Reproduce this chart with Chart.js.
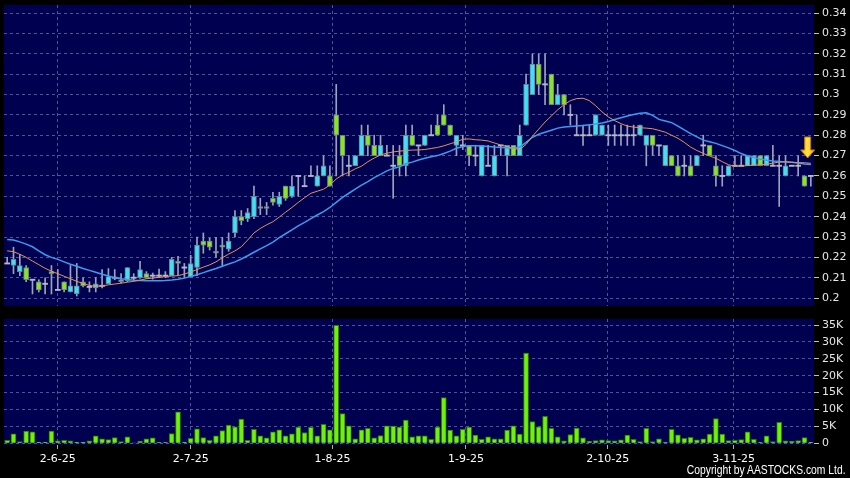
<!DOCTYPE html>
<html>
<head>
<meta charset="utf-8">
<script src="https://cdn.jsdelivr.net/npm/chart.js@4.4.1/dist/chart.umd.min.js"></script>
<style>
html, body { margin: 0; padding: 0; background: #000; }
#wrap { position: relative; width: 850px; height: 478px; background: #000; overflow: hidden; }
#priceChart { position: absolute; left: 0; top: 0; }
#volChart { position: absolute; left: 0; top: 312px; }
#copy { position: absolute; right: 4px; top: 463px; line-height: 14px; color: #fff; white-space: nowrap;
        font: 12px "Liberation Sans Narrow", "Liberation Sans", sans-serif;
        transform: scaleX(0.86); transform-origin: right center; }
</style>
</head>
<body>
<div id="wrap">
  <canvas id="priceChart" width="850" height="312"></canvas>
  <canvas id="volChart" width="850" height="166"></canvas>
  <div id="copy">Copyright by AASTOCKS.com Ltd.</div>
</div>
<script>
// Datos (una vela por sesión, 21-may a 19-nov)
const open = [
  0.217,0.216,0.213,0.215,0.209,0.208,0.207,0.213,0.204,0.208,
  0.203,0.202,0.208,0.2055,0.205,0.206,0.207,0.210,0.209,0.2085,
  0.210,0.210,0.212,0.211,0.211,0.211,0.211,0.218,0.215,0.2105,
  0.215,0.228,0.228,0.223,0.226,0.224,0.232,0.240,0.239,0.240,
  0.245,0.245,0.249,0.246,0.255,0.250,0.260,0.255,0.260,0.255,
  0.260,0.260,0.290,0.280,0.265,0.265,0.270,0.280,0.275,0.270,
  0.270,0.265,0.270,0.265,0.280,0.275,0.275,0.280,0.285,0.290,
  0.285,0.275,0.275,0.275,0.270,0.260,0.265,0.260,0.275,0.270,
  0.275,0.270,0.285,0.300,0.315,0.305,0.310,0.295,0.300,0.290,
  0.280,0.280,0.280,0.280,0.280,0.280,0.280,0.280,0.280,0.280,
  0.280,0.275,0.280,0.275,0.265,0.270,0.265,0.265,0.265,0.265,
  0.275,0.275,0.265,0.260,0.260,0.265,0.265,0.265,0.265,0.270,
  0.265,0.265,0.265,0.260,0.265,0.265,0.260,0.260
];
const high = [
  0.220,0.225,0.2215,0.216,0.209,0.209,0.210,0.216,0.214,0.208,
  0.216,0.217,0.210,0.208,0.210,0.214,0.2145,0.214,0.212,0.215,
  0.212,0.218,0.213,0.2123,0.2143,0.213,0.220,0.2205,0.217,0.221,
  0.230,0.232,0.2294,0.2298,0.2298,0.232,0.243,0.243,0.244,0.255,
  0.249,0.247,0.252,0.252,0.255,0.260,0.260,0.260,0.265,0.265,
  0.270,0.265,0.305,0.280,0.270,0.270,0.285,0.285,0.280,0.280,
  0.275,0.275,0.275,0.285,0.285,0.275,0.280,0.285,0.290,0.295,
  0.285,0.280,0.280,0.275,0.275,0.275,0.275,0.275,0.275,0.275,
  0.275,0.285,0.310,0.320,0.320,0.320,0.310,0.305,0.300,0.295,
  0.290,0.285,0.285,0.290,0.285,0.285,0.285,0.285,0.285,0.285,
  0.285,0.280,0.280,0.275,0.275,0.270,0.270,0.270,0.270,0.270,
  0.280,0.275,0.270,0.265,0.265,0.270,0.270,0.270,0.270,0.270,
  0.270,0.275,0.270,0.270,0.265,0.270,0.260,0.260
];
const low = [
  0.217,0.212,0.211,0.208,0.202,0.203,0.202,0.202,0.204,0.203,
  0.203,0.201,0.2055,0.203,0.203,0.205,0.207,0.209,0.2075,0.208,
  0.209,0.2097,0.2097,0.2093,0.210,0.210,0.211,0.211,0.210,0.2105,
  0.211,0.222,0.2236,0.220,0.216,0.223,0.230,0.236,0.2376,0.239,
  0.241,0.241,0.2457,0.245,0.248,0.2495,0.250,0.255,0.260,0.255,
  0.260,0.255,0.260,0.260,0.260,0.265,0.270,0.270,0.270,0.270,
  0.270,0.249,0.260,0.260,0.275,0.270,0.275,0.280,0.280,0.285,
  0.280,0.270,0.273,0.265,0.265,0.260,0.265,0.260,0.270,0.260,
  0.270,0.270,0.285,0.300,0.300,0.295,0.295,0.295,0.290,0.285,
  0.280,0.275,0.280,0.280,0.280,0.275,0.275,0.275,0.275,0.275,
  0.280,0.265,0.270,0.270,0.265,0.265,0.260,0.260,0.260,0.265,
  0.270,0.270,0.255,0.255,0.260,0.265,0.265,0.265,0.265,0.265,
  0.265,0.265,0.245,0.260,0.265,0.260,0.255,0.255
];
const close = [
  0.217,0.219,0.216,0.209,0.209,0.204,0.207,0.212,0.204,0.204,
  0.206,0.206,0.206,0.2055,0.207,0.206,0.2105,0.210,0.208,0.215,
  0.210,0.214,0.210,0.211,0.211,0.211,0.219,0.217,0.215,0.217,
  0.226,0.226,0.225,0.222,0.225,0.228,0.240,0.238,0.242,0.250,
  0.244,0.244,0.247,0.250,0.249,0.255,0.260,0.255,0.260,0.260,
  0.265,0.255,0.280,0.270,0.265,0.270,0.280,0.275,0.270,0.275,
  0.270,0.265,0.265,0.280,0.275,0.275,0.280,0.280,0.280,0.285,
  0.280,0.280,0.275,0.270,0.270,0.275,0.265,0.270,0.275,0.275,
  0.270,0.280,0.305,0.315,0.305,0.305,0.295,0.300,0.295,0.290,
  0.280,0.280,0.280,0.290,0.285,0.280,0.280,0.280,0.280,0.280,
  0.285,0.280,0.275,0.275,0.275,0.265,0.260,0.265,0.260,0.270,
  0.275,0.270,0.260,0.260,0.265,0.265,0.265,0.270,0.270,0.265,
  0.270,0.265,0.265,0.265,0.265,0.265,0.255,0.260
];
// medias móviles tal como se ven en el gráfico
const ma10 = [
  0.2232,0.2228,0.2215,0.2200,0.2182,0.2164,0.2146,0.2132,0.2120,0.2107,
  0.2095,0.2082,0.2072,0.2062,0.2058,0.2060,0.2065,0.2069,0.2073,0.2078,
  0.2082,0.2088,0.2095,0.2098,0.2102,0.2106,0.2108,0.2110,0.2118,0.2128,
  0.2140,0.2152,0.2163,0.2178,0.2198,0.2216,0.2232,0.2252,0.2285,0.2320,
  0.2342,0.2360,0.2375,0.2398,0.2422,0.2445,0.2470,0.2493,0.2515,0.2525,
  0.2535,0.2555,0.2585,0.2605,0.2618,0.2635,0.2648,0.2670,0.2688,0.2703,
  0.2712,0.2718,0.2722,0.2725,0.2727,0.2728,0.2730,0.2735,0.2740,0.2748,
  0.2758,0.2768,0.2780,0.2782,0.2778,0.2776,0.2772,0.2762,0.2752,0.2745,
  0.2735,0.2730,0.2755,0.2795,0.2830,0.2865,0.2895,0.2925,0.2950,0.2970,
  0.2980,0.2982,0.2970,0.2945,0.2915,0.2890,0.2872,0.2857,0.2845,0.2840,
  0.2837,0.2835,0.2832,0.2824,0.2815,0.2800,0.2785,0.2765,0.2742,0.2725,
  0.2711,0.2698,0.2687,0.2670,0.2655,0.2648,0.2648,0.2651,0.2653,0.2655,
  0.2658,0.2663,0.2668,0.2670,0.2667,0.2665,0.2665,0.2662
];
const ma20 = [
  0.2288,0.2285,0.2276,0.2265,0.2252,0.2232,0.2213,0.2200,0.2190,0.2178,
  0.2166,0.2156,0.2145,0.2136,0.2127,0.2117,0.2108,0.2100,0.2095,0.2091,
  0.2088,0.2086,0.2085,0.2085,0.2085,0.2086,0.2089,0.2093,0.2098,0.2106,
  0.2115,0.2125,0.2135,0.2145,0.2156,0.2167,0.2178,0.2192,0.2208,0.2225,
  0.2242,0.2258,0.2275,0.2297,0.2316,0.2335,0.2355,0.2372,0.2390,0.2408,
  0.2425,0.2445,0.2470,0.2495,0.2515,0.2535,0.2555,0.2572,0.2592,0.2608,
  0.2625,0.2637,0.2645,0.2660,0.2668,0.2678,0.2687,0.2694,0.2700,0.2710,
  0.2722,0.2736,0.2745,0.2748,0.2748,0.2747,0.2745,0.2742,0.2740,0.2738,
  0.2736,0.2742,0.2765,0.2790,0.2805,0.2815,0.2825,0.2835,0.2840,0.2843,
  0.2846,0.2848,0.2851,0.2855,0.2860,0.2868,0.2877,0.2886,0.2895,0.2902,
  0.2908,0.2910,0.2898,0.2878,0.2870,0.2862,0.2845,0.2826,0.2808,0.2792,
  0.2776,0.2768,0.2760,0.2749,0.2738,0.2725,0.2710,0.2698,0.2690,0.2683,
  0.2677,0.2673,0.2671,0.2669,0.2667,0.2664,0.2659,0.2656
];
const volume = [
  900,2800,500,3600,3400,400,400,3600,700,900,
  700,400,400,700,2200,1300,1100,1700,500,1900,
  100,600,1300,1600,300,300,2900,9300,400,1500,
  4300,1700,900,2200,3800,5400,4900,7200,900,4100,
  2200,1600,3400,4000,2200,2800,4800,3200,4700,2200,
  5600,4000,34900,8800,5200,1300,4000,4400,1600,2300,
  5200,5100,4800,6900,1900,2200,2200,1200,4800,13500,
  3900,2200,4100,4800,2400,1200,1900,1300,1300,3900,
  5200,2700,26700,6400,4900,8000,4400,1900,700,2600,
  4500,1600,600,800,1000,800,700,1000,2400,1200,
  500,4400,500,1300,300,4100,2500,1500,1800,1000,
  1300,2700,7300,2700,800,900,1100,3400,1200,300,
  2200,500,6200,700,600,800,1700,400
];
const priceTicks = [0.2,0.21,0.22,0.23,0.24,0.25,0.26,0.27,0.28,0.29,0.3,0.31,0.32,0.33,0.34];
const volTicks = [0,5000,10000,15000,20000,25000,30000,35000];
const dateLabels = ['2-6-25','2-7-25','1-8-25','1-9-25','2-10-25','3-11-25'];
const datePos = [8, 29, 51.4, 72.5, 94.9, 114.8];

// Colores
const upColor = '#3fe0f0';
const downColor = '#88e61c';
const dojiColor = '#b4b8cc';
const gridColor = 'rgba(150,150,210,0.55)';
const labelFont = { family: 'DejaVu Sans', size: 11 };

const idx = close.map((_, i) => i);
const isDoji = idx.map(i => open[i] === close[i]);

// Fondo negro + panel azul oscuro
const panelBg = {
    id: 'panelBg',
    beforeDraw(chart) {
        const { ctx, chartArea: a } = chart;
        ctx.save();
        ctx.fillStyle = '#000';
        ctx.fillRect(0, 0, chart.width, chart.height);
        ctx.fillStyle = '#000050';
        ctx.fillRect(a.left, a.top, a.right - a.left, a.bottom - a.top);
        ctx.restore();
    }
};

// Flecha amarilla sobre la última vela
const arrowMark = {
    id: 'arrowMark',
    afterDatasetsDraw(chart) {
        const xs = chart.scales.x, ys = chart.scales.y;
        const last = close.length - 1;
        const cx = xs.getPixelForValue(last - 0.5);
        const tip = ys.getPixelForValue(high[last]) - 18;
        const ctx = chart.ctx;
        ctx.save();
        const g = ctx.createLinearGradient(cx - 7, 0, cx + 7, 0);
        g.addColorStop(0, '#ffb400');
        g.addColorStop(0.5, '#ffe24a');
        g.addColorStop(1, '#f0a000');
        ctx.fillStyle = g;
        ctx.strokeStyle = '#c07800';
        ctx.lineWidth = 1;
        ctx.beginPath();
        ctx.moveTo(cx - 3, tip - 21);
        ctx.lineTo(cx + 3, tip - 21);
        ctx.lineTo(cx + 3, tip - 8);
        ctx.lineTo(cx + 7, tip - 8);
        ctx.lineTo(cx, tip);
        ctx.lineTo(cx - 7, tip - 8);
        ctx.lineTo(cx - 3, tip - 8);
        ctx.closePath();
        ctx.fill();
        ctx.stroke();
        ctx.restore();
    }
};

function noPad(s) {
    s.paddingTop = 0; s.paddingBottom = 0; s.paddingLeft = 0; s.paddingRight = 0;
}

// Gráfico de precios
new Chart(document.getElementById('priceChart'), {
    type: 'bar',
    data: {
        datasets: [
            {
                type: 'line',
                data: idx.map(i => ({ x: i, y: ma10[i] })),
                borderColor: '#e8905c',
                borderWidth: 1,
                pointRadius: 0,
                order: 1
            },
            {
                type: 'line',
                data: idx.map(i => ({ x: i, y: ma20[i] })),
                borderColor: '#3c9cf0',
                borderWidth: 1.5,
                pointRadius: 0,
                order: 1
            },
            {
                data: idx.map(i => ({
                    x: i,
                    y: isDoji[i] ? [open[i] - 0.0003, open[i] + 0.0003]
                                 : [Math.min(open[i], close[i]), Math.max(open[i], close[i])]
                })),
                backgroundColor: idx.map(i => close[i] > open[i] ? upColor : (close[i] < open[i] ? downColor : dojiColor)),
                borderColor: idx.map(i => isDoji[i] ? dojiColor : '#6f7d96'),
                borderWidth: c => isDoji[c.dataIndex] ? 0 : 1,
                borderSkipped: false,
                barThickness: 5,
                grouped: false,
                order: 2
            },
            {
                data: idx.map(i => ({ x: i, y: [low[i], high[i]] })),
                backgroundColor: '#9ca2b8',
                barThickness: 1,
                grouped: false,
                order: 3
            }
        ]
    },
    options: {
        responsive: false,
        devicePixelRatio: 1,
        animation: false,
        layout: { padding: { left: 4, top: 5, right: 0, bottom: 0 } },
        plugins: { legend: { display: false }, tooltip: { enabled: false } },
        scales: {
            x: {
                type: 'linear',
                min: -0.5,
                max: close.length - 0.5,
                offset: false,
                afterBuildTicks: s => { s.ticks = datePos.map(v => ({ value: v })); },
                afterFit: s => { s.height = 6; noPad(s); },
                ticks: { display: false },
                grid: { offset: false, color: gridColor, drawTicks: false },
                border: { display: false, dash: [3, 3] }
            },
            y: {
                position: 'right',
                min: 0.1961,
                max: 0.344,
                afterBuildTicks: s => { s.ticks = priceTicks.map(v => ({ value: v })); },
                afterFit: s => { s.width = 36; noPad(s); },
                ticks: {
                    color: '#e6e6e6',
                    font: labelFont,
                    padding: 3,
                    callback: v => String(Math.round(v * 100) / 100)
                },
                grid: { color: gridColor, tickColor: '#c0c0c0', tickLength: 5 },
                border: { display: false, dash: [3, 3] }
            }
        }
    },
    plugins: [panelBg, arrowMark]
});

// Gráfico de volumen
new Chart(document.getElementById('volChart'), {
    type: 'bar',
    data: {
        datasets: [{
            data: idx.map(i => ({ x: i, y: volume[i] })),
            backgroundColor: '#6ef20c',
            borderColor: '#2f7a00',
            borderWidth: 1,
            barThickness: 5
        }]
    },
    options: {
        responsive: false,
        devicePixelRatio: 1,
        animation: false,
        layout: { padding: { left: 4, top: 7, right: 0, bottom: 0 } },
        plugins: { legend: { display: false }, tooltip: { enabled: false } },
        scales: {
            x: {
                type: 'linear',
                min: -0.5,
                max: close.length - 0.5,
                offset: false,
                afterBuildTicks: s => { s.ticks = datePos.map(v => ({ value: v })); },
                afterFit: s => { s.height = 33; noPad(s); },
                ticks: {
                    color: '#ffffff',
                    font: labelFont,
                    padding: 4,
                    maxRotation: 0,
                    autoSkip: false,
                    callback: (v, i) => dateLabels[i]
                },
                grid: { offset: false, color: gridColor, tickColor: '#b0b0b0', tickLength: 4 },
                border: { display: false, dash: [3, 3] }
            },
            y: {
                position: 'right',
                min: -500,
                max: 36780,
                afterBuildTicks: s => { s.ticks = volTicks.map(v => ({ value: v })); },
                afterFit: s => { s.width = 36; noPad(s); },
                ticks: {
                    color: '#e6e6e6',
                    font: labelFont,
                    padding: 3,
                    callback: v => v === 0 ? '0' : (v / 1000) + 'K'
                },
                grid: { color: gridColor, tickColor: '#c0c0c0', tickLength: 5 },
                border: { display: false, dash: [3, 3] }
            }
        }
    },
    plugins: [panelBg]
});
</script>
</body>
</html>
